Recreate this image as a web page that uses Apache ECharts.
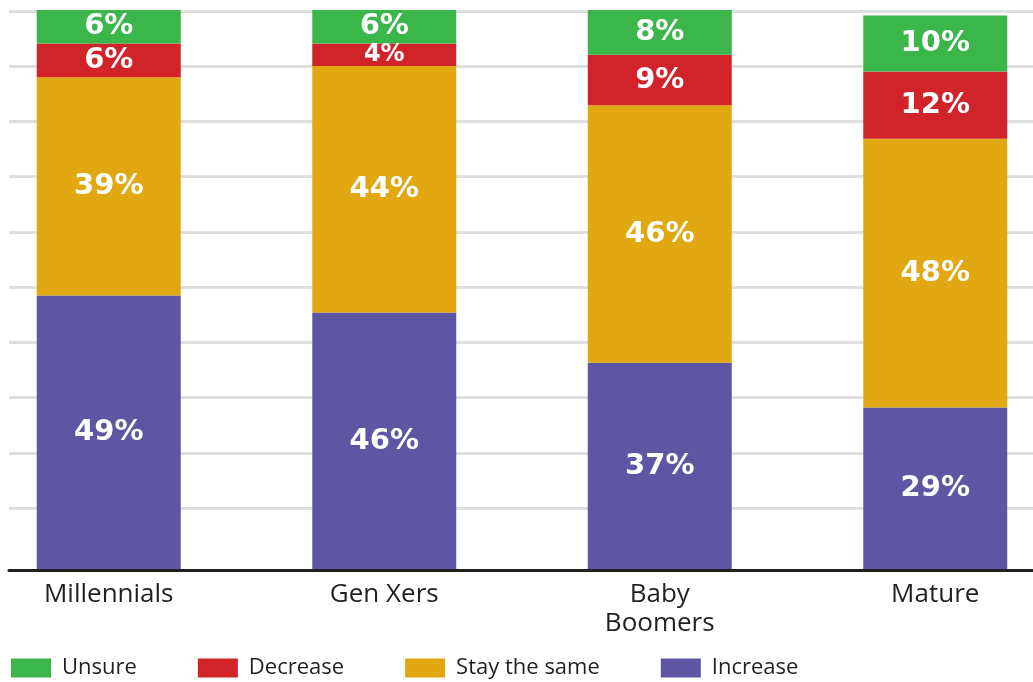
<!DOCTYPE html>
<html>
<head>
<meta charset="utf-8">
<script src="https://cdn.jsdelivr.net/npm/echarts@6/dist/echarts.min.js"></script>
<style>
html,body{margin:0;padding:0;background:#fff;width:1033px;height:682px;overflow:hidden;position:relative;}
#chart{position:absolute;left:-30px;top:0;width:1103px;height:682px;}
</style>
</head>
<body>
<div id="chart"></div>
<script>
const categories = ['Millennials', 'Gen Xers', 'Baby\nBoomers', 'Mature'];
const increase = [49, 46, 37, 29];
const stayTheSame = [39, 44, 46, 48];
const decrease = [6, 4, 9, 12];
const unsure = [6, 6, 8, 10];
const legendOrder = ['Unsure', 'Decrease', 'Stay the same', 'Increase'];

const colors = {
  'Increase': '#5e56a2',
  'Stay the same': '#e2a811',
  'Decrease': '#d1232a',
  'Unsure': '#3bb64b'
};
const textColor = '#231f20';
const labelFont = 'DejaVu Sans';
const catFont = 'Open Sans';

function makeSeries(name, values) {
  return {
    name: name,
    type: 'bar',
    stack: 'total',
    xAxisIndex: 0,
    yAxisIndex: 0,
    barWidth: 144,
    itemStyle: { color: colors[name] },
    data: values.map(v => ({
      value: v,
      label: { fontSize: v < 5 ? 24 : 29 }
    })),
    label: {
      show: true,
      position: 'inside',
      formatter: p => p.value + '%',
      color: '#fff',
      fontFamily: labelFont,
      fontWeight: 'bold',
      fontSize: 29
    },
    emphasis: { disabled: true }
  };
}

const chart = echarts.init(document.getElementById('chart'), null, { renderer: 'canvas' });
chart.setOption({
  animation: false,
  backgroundColor: '#fff',
  grid: [
    { left: 1, width: 1103, top: 10, height: 560 },
    { left: 39, right: 40, top: 11, height: 497 },
    { left: 39, right: 40, top: 10, height: 560 }
  ],
  xAxis: [
    {
      gridIndex: 0, type: 'category', data: categories,
      axisLine: { show: false }, axisTick: { show: false },
      axisLabel: {
        color: textColor, fontFamily: catFont, fontSize: 26,
        lineHeight: 29, margin: 10, interval: 0
      }
    },
    { gridIndex: 1, type: 'value', show: false },
    {
      gridIndex: 2, type: 'value', min: 0, max: 1, z: 5,
      axisLine: { show: true, onZero: false, lineStyle: { color: textColor, width: 3 } },
      axisTick: { show: false }, axisLabel: { show: false }, splitLine: { show: false }
    }
  ],
  yAxis: [
    { gridIndex: 0, type: 'value', min: 0, max: 100, show: false, splitLine: { show: false } },
    {
      gridIndex: 1, type: 'value', min: 10, max: 100, interval: 10,
      axisLine: { show: false }, axisTick: { show: false }, axisLabel: { show: false },
      splitLine: { show: true, lineStyle: { color: '#dedfe0', width: 3 } }
    },
    { gridIndex: 2, type: 'value', show: false, min: 0, max: 1 }
  ],
  legend: {
    data: legendOrder,
    left: 41,
    top: 657,
    padding: 0,
    itemWidth: 40,
    itemHeight: 19,
    itemGap: 61,
    icon: 'rect',
    textStyle: { color: textColor, fontFamily: catFont, fontSize: 22, padding: [0, 0, 0, 6] },
    selectedMode: false
  },
  series: [
    makeSeries('Increase', increase),
    makeSeries('Stay the same', stayTheSame),
    makeSeries('Decrease', decrease),
    makeSeries('Unsure', unsure)
  ]
});
</script>
</body>
</html>
